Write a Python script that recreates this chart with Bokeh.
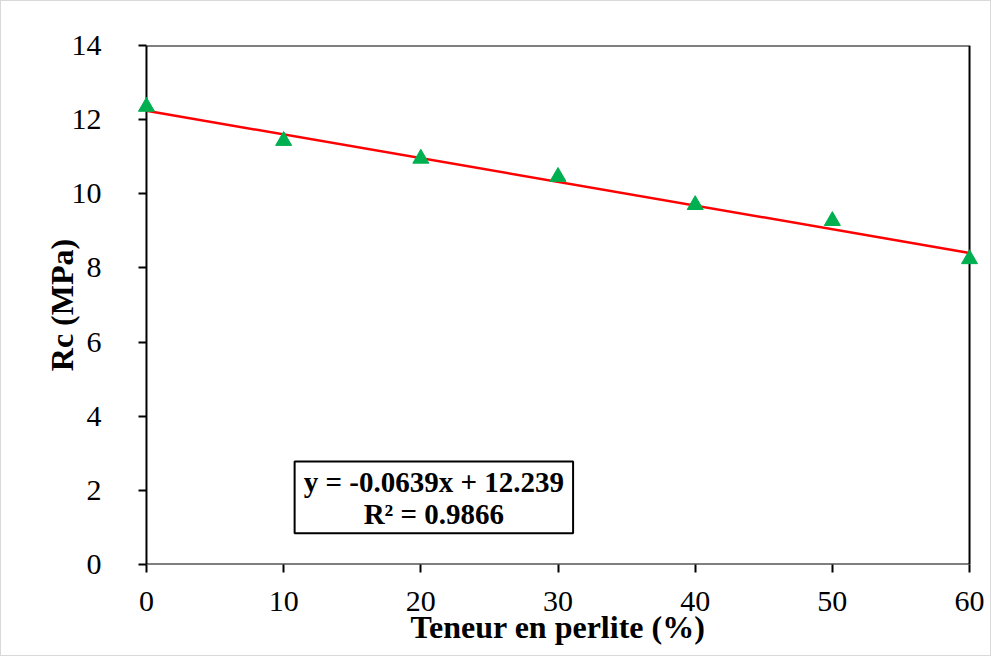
from bokeh.plotting import figure
from bokeh.models import Label, BoxAnnotation, FixedTicker, Range1d
from bokeh.embed import file_html
from bokeh.resources import INLINE

perlite = [0, 10, 20, 30, 40, 50, 60]
rc = [12.35, 11.43, 10.95, 10.46, 9.70, 9.27, 8.24]
slope = -0.0639
intercept = 12.239
x_ticks = [0, 10, 20, 30, 40, 50, 60]
y_ticks = [0, 2, 4, 6, 8, 10, 12, 14]
eq_line1 = "y = -0.0639x + 12.239"
eq_line2 = "R² = 0.9866"

FONT = "Liberation Serif"
PAD = 0.8  # padding so edge markers are not clipped

p = figure(width=991, height=656, output_backend="svg", toolbar_location=None,
           x_range=Range1d(-PAD, 60 + PAD), y_range=Range1d(0, 14),
           min_border_left=134, min_border_right=12, min_border_top=44, min_border_bottom=93)
p.styles = {"border": "1px solid #d9d9d9"}
p.grid.visible = False
p.outline_line_color = None
p.background_fill_color = "white"
p.border_fill_color = "white"

for ax, ticks in ((p.xaxis[0], x_ticks), (p.yaxis[0], y_ticks)):
    ax.ticker = FixedTicker(ticks=ticks)
    ax.minor_tick_line_color = None
    ax.major_tick_line_color = "black"
    ax.major_tick_line_width = 2
    ax.axis_line_color = None
    ax.major_label_text_font = FONT
    ax.major_label_text_font_size = "30px"
    ax.major_label_text_color = "black"
    ax.axis_label_text_font = FONT
    ax.axis_label_text_font_size = "32px"
    ax.axis_label_text_font_style = "bold"
    ax.axis_label_text_color = "black"

p.xaxis.major_tick_in = 0
p.xaxis.major_tick_out = 8
p.yaxis.major_tick_in = 11
p.yaxis.major_tick_out = -3

p.xaxis.axis_label = "Teneur en perlite (%)"
p.yaxis.axis_label = "Rc (MPa)"
p.xaxis.major_label_standoff = 19
p.xaxis.axis_label_standoff = -5
p.yaxis.major_label_standoff = 34
p.yaxis.axis_label_standoff = -11

# plot frame box drawn at the data limits
frame = BoxAnnotation(left=0, right=60, bottom=0, top=14, fill_alpha=0,
                      line_color="black", line_alpha=1, line_width=2, level="underlay")
p.add_layout(frame)

xs_fit = [perlite[0], perlite[-1]]
ys_fit = [intercept + slope * v for v in xs_fit]
p.line(xs_fit, ys_fit, line_color="#FF0000", line_width=2.5)
p.scatter(perlite, rc, marker="triangle", size=16, fill_color="#00B050", line_color="#00B050")

box = BoxAnnotation(left=10.8, right=31.1, bottom=0.84, top=2.78,
                    fill_color="white", fill_alpha=1, line_color="black", line_alpha=1, line_width=2)
p.add_layout(box)
for txt, yy in ((eq_line1, 2.22), (eq_line2, 1.37)):
    p.add_layout(Label(x=20.95, y=yy, text=txt, text_align="center", text_baseline="middle",
                       text_font=FONT, text_font_size="29px", text_font_style="bold",
                       text_color="black"))

open("out.html", "w").write(file_html(p, INLINE))
